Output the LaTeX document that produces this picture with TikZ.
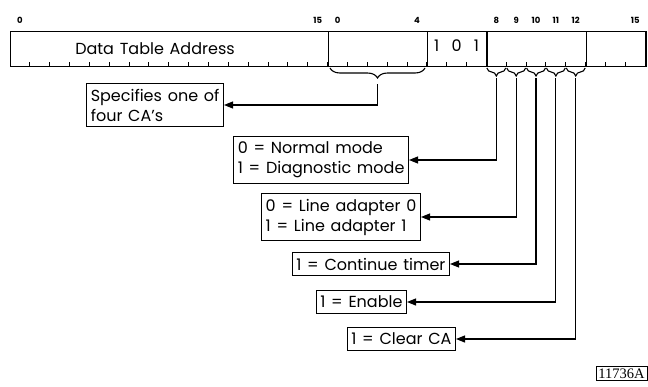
\documentclass[tikz,border=0pt]{standalone}
\usepackage{fontspec}
\setmainfont[WordSpace=1.35]{Poppins}
\newfontfamily\idfont{Liberation Serif}
\usetikzlibrary{arrows.meta,positioning,calc,decorations.pathreplacing}

\newcommand{\bw}{19.85}

\begin{document}
\begin{tikzpicture}[x=1pt,y=-1pt,
  every node/.style={font=\fontsize{16}{20}\selectfont},
  field/.style={draw,line width=1.4pt,minimum height=35pt,inner sep=0pt,anchor=north west},
  bitnum/.style={font=\fontsize{8.5}{9}\selectfont\bfseries},
  legend/.style={draw,line width=1.1pt,align=left,inner xsep=4pt,inner ysep=5.5pt,anchor=east},
  arr/.style={-{Triangle[length=9pt,width=7pt]},line width=1.1pt},
  brc/.style={decorate,decoration={brace,mirror,amplitude=#1},line width=1.1pt},
]
\useasboundingbox (0,0) rectangle (648,386);

%% Register word
\node[field,minimum width=16*\bw pt] (dta)   at (10,31) {};
\node[field,minimum width=5*\bw pt]  (ca)    at (10+16*\bw,31) {};
\node[field,minimum width=3*\bw pt]  (code)  at (10+21*\bw,31) {};
\node[field,minimum width=5*\bw pt]  (ctl)   at (10+24*\bw,31) {};
\node[field,minimum width=3*\bw pt]  (spare) at (10+29*\bw,31) {};
\foreach \i in {1,...,31}
  \draw[line width=1pt] (10+\i*\bw,66) -- (10+\i*\bw,61.5);

\node (dtatext) at (155,49) {Data Table Address};
\foreach \p/\v in {21/1,22/0,23/1}
  \node (code\p) at (10+\p*\bw+0.5*\bw,46) {\v};

%% Bit numbers
\foreach \p/\lbl in {0/0,15/15,16/0,20/4,24/8,25/9,26/10,27/11,28/12,31/15}
  \node[bitnum] (n\p) at (10+\p*\bw+0.5*\bw,20) {\lbl};

%% Braces
\draw[brc=10pt] (330,68) -- (425,68);
\coordinate (catip) at (377.5,84);
\foreach \p in {24,...,28} {
  \draw[brc=8pt] (10+\p*\bw+0.5,68) -- (10+\p*\bw+\bw-0.5,68);
  \coordinate (b\p) at (10+\p*\bw+0.5*\bw,78);
}

%% Legends
\node[legend] (spec)  at (224,105) {Specifies one of\\four CA's};
\node[legend] (mode)  at (409,160) {0 = Normal mode\\1 = Diagnostic mode};
\node[legend] (line)  at (421,217) {0 = Line adapter 0\\1 = Line adapter 1};
\node[legend] (timer) at (450,264) {1 = Continue timer};
\node[legend] (enab)  at (407,302) {1 = Enable};
\node[legend] (clear) at (456,339) {1 = Clear CA};

\draw[arr] (catip) |- (spec.east);
\draw[arr] (b24) |- (mode.east);
\draw[arr] (b25) |- (line.east);
\draw[arr] (b26) |- (timer.east);
\draw[arr] (b27) |- (enab.east);
\draw[arr] (b28) |- (clear.east);

%% Figure number
\node[draw,line width=0.8pt,inner sep=2.5pt,anchor=east,font=\idfont\fontsize{14.5}{15}\selectfont] (figno) at (647.5,373.5) {11736A};

\end{tikzpicture}
\end{document}
